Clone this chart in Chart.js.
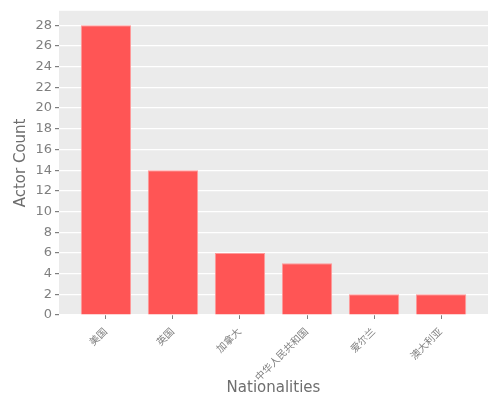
<!DOCTYPE html>
<html>
<head>
<meta charset="utf-8">
<script src="https://cdn.jsdelivr.net/npm/chart.js@4"></script>
<style>
  html, body { margin: 0; padding: 0; background: #fff; }
  #wrap { width: 500px; height: 400px; }
</style>
</head>
<body>
<div id="wrap"><canvas id="actorChart"></canvas></div>
<script>
const nationalities = ['美国', '英国', '加拿大', '中华人民共和国', '爱尔兰', '澳大利亚'];
const actorCounts = [28, 14, 6, 5, 2, 2];
const yTicks = [0, 2, 4, 6, 8, 10, 12, 14, 16, 18, 20, 22, 24, 26, 28];

const gray = '#7f7f7f';
const fontFamily = '"DejaVu Sans", "Noto Sans CJK SC", sans-serif';

// grey panel behind the plot, like ggplot
const panelBg = {
  id: 'panelBg',
  beforeDraw(chart) {
    const a = chart.chartArea;
    const c = chart.ctx;
    c.save();
    c.fillStyle = '#ebebeb';
    c.fillRect(a.left, a.top, a.right - a.left, a.bottom - a.top);
    c.restore();
  }
};

const ctx = document.getElementById('actorChart').getContext('2d');

new Chart(ctx, {
  type: 'bar',
  data: {
    datasets: [{
      label: 'Actor Count',
      data: actorCounts.map((v, i) => ({x: i, y: v})),
      backgroundColor: '#ff5555',
      borderColor: '#ff9a9a',
      borderWidth: 1,
      barPercentage: 0.75,
      categoryPercentage: 1
    }]
  },
  options: {
    responsive: true,
    maintainAspectRatio: false,
    animation: false,
    layout: {padding: {top: 10, right: 12, left: 0, bottom: 0}},
    scales: {
      x: {
        type: 'linear',
        offset: false,
        min: -0.7,
        max: 5.7,
        afterBuildTicks(scale) {
          scale.ticks = nationalities.map((n, i) => ({value: i}));
        },
        afterFit(scale) {
          scale.height = 85;
        },
        ticks: {
          color: gray,
          padding: 7,
          font: {family: fontFamily, size: 10},
          maxRotation: 45,
          minRotation: 45,
          callback: (v) => nationalities[v]
        },
        grid: {offset: false, drawOnChartArea: false, tickColor: gray, tickLength: 4},
        border: {display: false},
        title: {
          display: true,
          text: 'Nationalities',
          color: '#6e6e6e',
          font: {family: fontFamily, size: 15},
          padding: {top: 0, bottom: 3}
        }
      },
      y: {
        min: 0,
        max: 29.4,
        afterBuildTicks(scale) {
          scale.ticks = yTicks.map(v => ({value: v}));
        },
        afterFit(scale) {
          scale.width = 59;
        },
        ticks: {
          color: gray,
          font: {family: fontFamily, size: 13}
        },
        grid: {color: '#ffffff', lineWidth: 1.2, tickColor: gray, tickLength: 4},
        border: {display: false},
        title: {
          display: true,
          text: 'Actor Count',
          color: '#6e6e6e',
          font: {family: fontFamily, size: 15},
          padding: {top: 12, bottom: 4}
        }
      }
    },
    plugins: {
      legend: {display: false},
      tooltip: {enabled: true}
    }
  },
  plugins: [panelBg]
});
</script>
</body>
</html>
